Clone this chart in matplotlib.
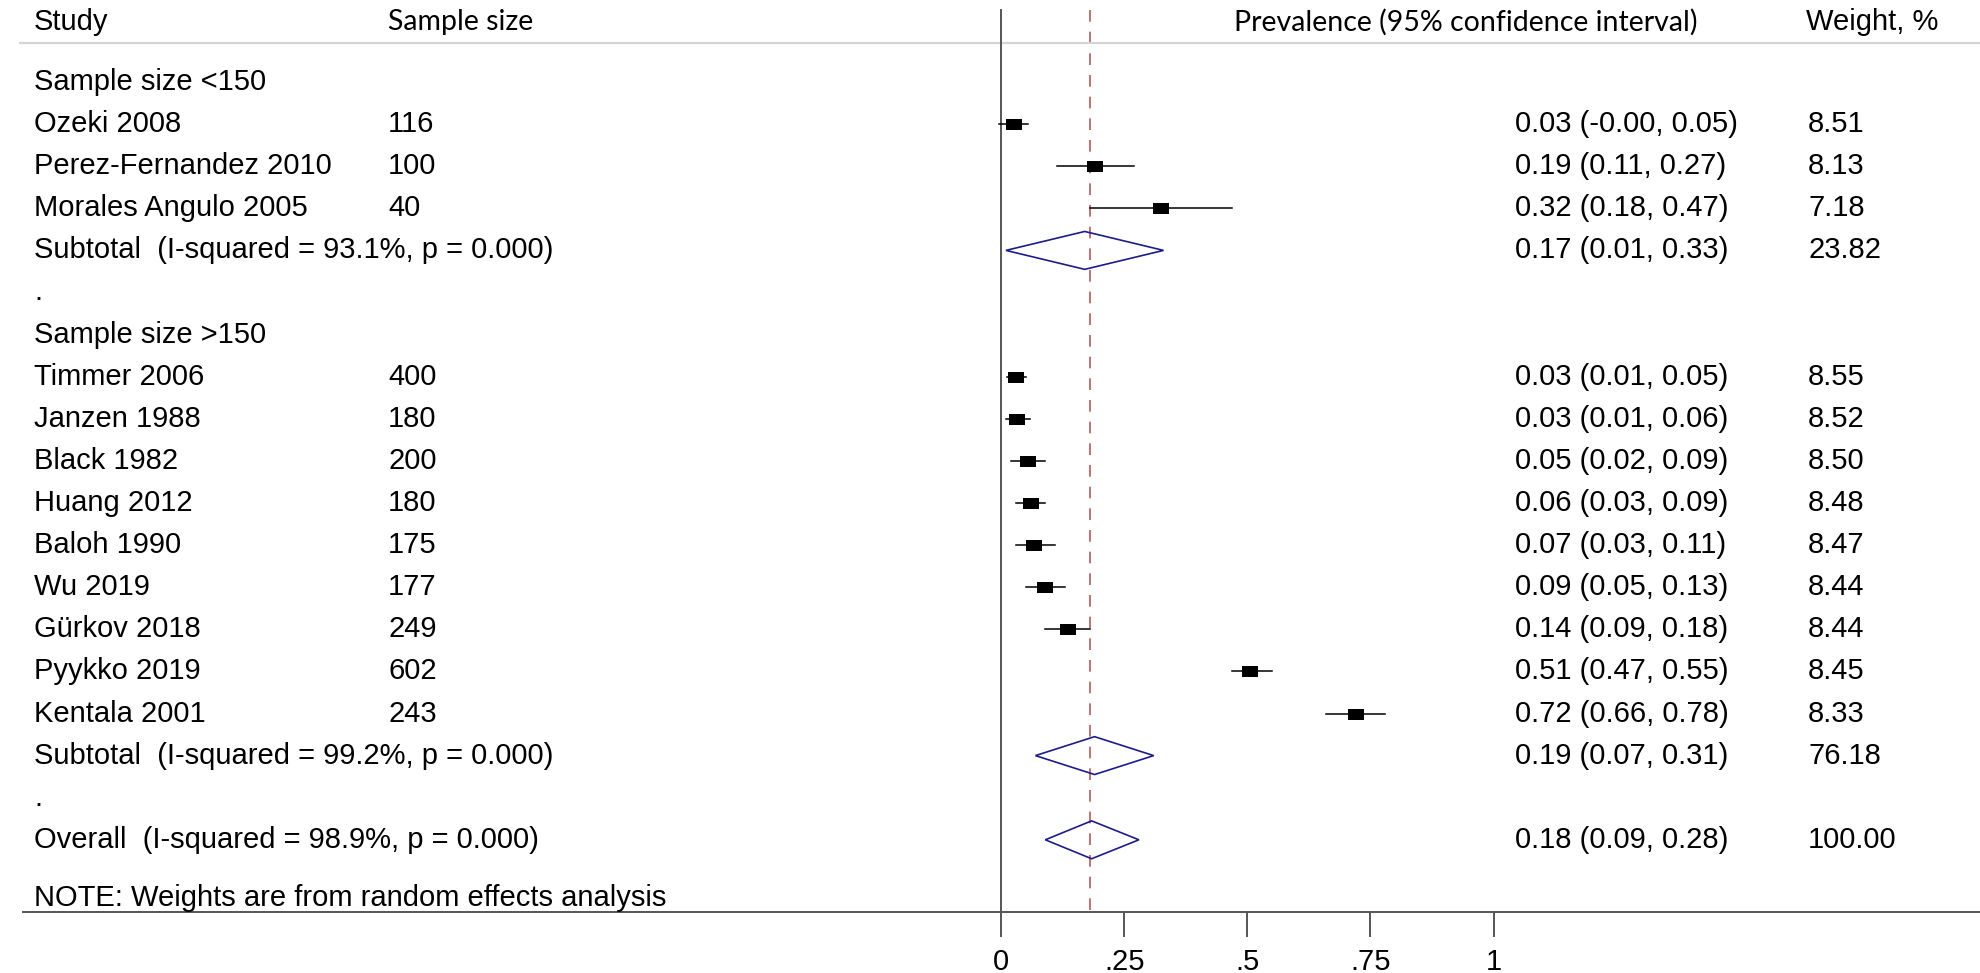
import matplotlib
matplotlib.use("Agg")
import matplotlib.pyplot as plt
from matplotlib.patches import Polygon

# ---------------- data ----------------
row_labels = ["Sample size <150", "Ozeki 2008", "Perez-Fernandez 2010", "Morales Angulo 2005",
              "Subtotal  (I-squared = 93.1%, p = 0.000)", ".", "Sample size >150",
              "Timmer 2006", "Janzen 1988", "Black 1982", "Huang 2012", "Baloh 1990",
              "Wu 2019", "Gürkov 2018", "Pyykko 2019", "Kentala 2001",
              "Subtotal  (I-squared = 99.2%, p = 0.000)", ".",
              "Overall  (I-squared = 98.9%, p = 0.000)"]
row_kind = ["head", "study", "study", "study", "sub", "blank", "head",
            "study", "study", "study", "study", "study", "study", "study", "study", "study",
            "sub", "blank", "sub"]
sample_sizes = ["", "116", "100", "40", "", "", "", "400", "180", "200", "180", "175",
                "177", "249", "602", "243", "", "", ""]
est = [None, 0.026, 0.19, 0.325, 0.17, None, None, 0.03, 0.033, 0.055, 0.06, 0.068,
       0.09, 0.136, 0.505, 0.72, 0.19, None, 0.184]
lo = [None, -0.004, 0.113, 0.18, 0.01, None, None, 0.013, 0.01, 0.02, 0.03, 0.03,
      0.05, 0.09, 0.47, 0.66, 0.07, None, 0.09]
hi = [None, 0.054, 0.27, 0.47, 0.33, None, None, 0.05, 0.058, 0.09, 0.09, 0.11,
      0.13, 0.18, 0.55, 0.78, 0.31, None, 0.28]
ci_text = ["", "0.03 (-0.00, 0.05)", "0.19 (0.11, 0.27)", "0.32 (0.18, 0.47)",
           "0.17 (0.01, 0.33)", "", "", "0.03 (0.01, 0.05)", "0.03 (0.01, 0.06)",
           "0.05 (0.02, 0.09)", "0.06 (0.03, 0.09)", "0.07 (0.03, 0.11)",
           "0.09 (0.05, 0.13)", "0.14 (0.09, 0.18)", "0.51 (0.47, 0.55)",
           "0.72 (0.66, 0.78)", "0.19 (0.07, 0.31)", "", "0.18 (0.09, 0.28)"]
weights = ["", "8.51", "8.13", "7.18", "23.82", "", "", "8.55", "8.52", "8.50", "8.48",
           "8.47", "8.44", "8.44", "8.45", "8.33", "76.18", "", "100.00"]
overall_est = 0.18
xticks = [0, 0.25, 0.5, 0.75, 1]
xtick_labels = ["0", ".25", ".5", ".75", "1"]

# ---------------- layout ----------------
W, H = 1980, 973
fig = plt.figure(figsize=(W / 100, H / 100), dpi=100)
px0 = 1001.0      # pixel of x=0
ppu = 492.5       # pixels per unit
ax_left_px = 23
axis_y_px = 912
ax = fig.add_axes([ax_left_px / W, (H - axis_y_px) / H, 1 - ax_left_px / W, axis_y_px / H])
ax.set_xlim((ax_left_px - px0) / ppu, (W - px0) / ppu)
row0_px, row_h = 82.0, 42.1
ax.set_ylim((axis_y_px - row0_px) / row_h, -row0_px / row_h)

def px2x(p):
    return (p - px0) / ppu

def py2y(p):
    return (p - row0_px) / row_h

FS = 21
for s in ["left", "right", "top"]:
    ax.spines[s].set_visible(False)
ax.spines["bottom"].set_color("#555555")
ax.spines["bottom"].set_linewidth(1.4)
ax.set_yticks([])
ax.set_xticks(xticks)
ax.set_xticklabels(xtick_labels, fontsize=FS, family="Liberation Sans")
ax.tick_params(axis="x", length=18, width=1.4, color="#555555", pad=8)

txt = dict(fontsize=FS, family="Liberation Sans", color="black", va="center")
hdr = dict(fontsize=20.5, family="Lato", color="black", va="center")

# headers
hy = py2y(22)
ax.text(px2x(34), hy, "Study", ha="left", clip_on=False, **txt)
ax.text(px2x(388), hy, "Sample size", ha="left", clip_on=False, **hdr)
ax.text(px2x(1234), hy, "Prevalence (95% confidence interval)", ha="left", clip_on=False, **hdr)
ax.text(px2x(1806), hy, "Weight, %", ha="left", clip_on=False, **txt)
ax.plot([px2x(20), px2x(W)], [py2y(43)] * 2, color="#d4d4d4", lw=1.6, clip_on=False)

# reference lines
top_y = py2y(10)
ax.plot([0, 0], [top_y, ax.get_ylim()[0]], color="#555555", lw=1.4, clip_on=False)
ax.plot([overall_est, overall_est], [top_y, ax.get_ylim()[0]], color="#b05a5a", lw=1.2,
        dashes=(7, 6), clip_on=False, zorder=1)

box_marker = [(-1, -0.72), (1, -0.72), (1, 0.72), (-1, 0.72), (-1, -0.72)]

for i, lab in enumerate(row_labels):
    y = i
    ax.text(px2x(34), y, lab, ha="left", clip_on=False, **txt)
    if sample_sizes[i]:
        ax.text(px2x(388), y, sample_sizes[i], ha="left", clip_on=False, **txt)
    if ci_text[i]:
        ax.text(px2x(1515), y, ci_text[i], ha="left", clip_on=False, **txt)
    if weights[i]:
        ax.text(px2x(1808), y, weights[i], ha="left", clip_on=False, **txt)
    if row_kind[i] == "study":
        ax.plot([lo[i], hi[i]], [y, y], color="black", lw=1.1, zorder=3)
        ax.plot([est[i]], [y], marker=box_marker, color="black", markersize=11,
                markeredgewidth=0, zorder=4)
    elif row_kind[i] == "sub":
        dh = 0.45
        poly = Polygon([[lo[i], y], [est[i], y - dh], [hi[i], y], [est[i], y + dh]],
                       closed=True, fill=False, edgecolor="#1c1c8a", lw=1.2, zorder=3)
        ax.add_patch(poly)

ax.text(px2x(34), py2y(906), "NOTE: Weights are from random effects analysis",
        ha="left", clip_on=False, fontsize=FS, family="Liberation Sans", va="baseline")

fig.savefig("out.png", dpi=100)
